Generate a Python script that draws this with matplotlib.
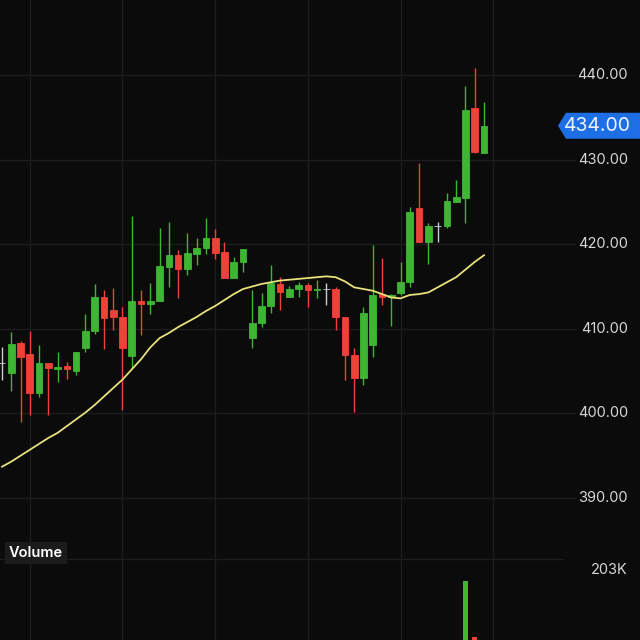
import numpy as np
import matplotlib.pyplot as plt
import matplotlib.transforms as mtransforms
from matplotlib.patches import Polygon
from matplotlib.lines import Line2D

plt.rcParams['font.family'] = ['Inter', 'DejaVu Sans']

# candles (oldest first)
opens = [405.9, 404.8, 408.3, 407.0, 402.4, 406.0, 405.3, 405.6, 405.0, 407.7,
         409.7, 413.8, 412.2, 411.4, 406.8, 413.3, 412.9, 413.3, 417.3, 418.7,
         417.1, 418.8, 419.6, 420.7, 419.1, 416.0, 417.9, 408.9, 410.7, 412.7,
         415.3, 413.8, 414.7, 415.2, 414.6, 414.7, 414.7, 411.4, 406.9, 404.2,
         408.1, 414.1, 413.8, 414.2, 415.5, 424.3, 420.3, 422.2, 422.2, 425.0,
         425.5, 436.1, 430.8]
highs = [407.8, 409.6, 408.6, 409.7, 408.1, 406.0, 407.3, 406.1, 407.3, 411.7,
         415.3, 414.6, 414.8, 412.6, 423.3, 414.6, 415.4, 421.9, 422.6, 419.3,
         421.3, 420.7, 423.1, 421.8, 420.3, 418.5, 419.4, 414.6, 414.2, 417.5,
         416.1, 415.1, 415.5, 415.4, 415.8, 415.4, 414.9, 411.4, 407.7, 412.6,
         419.9, 418.4, 414.1, 417.9, 424.4, 429.6, 422.5, 422.6, 426.1, 427.6,
         438.7, 440.8, 436.8]
lows = [404.0, 402.6, 399.0, 399.8, 401.9, 399.8, 403.7, 404.1, 404.5, 407.3,
        409.4, 407.6, 409.9, 400.4, 405.4, 409.3, 411.7, 413.3, 415.0, 413.6,
        416.4, 417.5, 418.8, 418.3, 416.0, 416.0, 416.7, 407.7, 410.2, 411.9,
        412.2, 413.8, 413.8, 412.6, 413.6, 412.8, 409.9, 404.0, 400.2, 403.4,
        406.7, 412.8, 410.3, 414.0, 414.9, 420.3, 417.7, 420.3, 421.9, 425.0,
        422.5, 430.8, 430.8]
closes = [405.9, 408.2, 406.7, 402.4, 406.0, 405.4, 405.5, 405.3, 407.3, 409.7,
          413.8, 411.3, 411.4, 407.7, 413.3, 412.9, 413.3, 417.4, 418.7, 417.1,
          419.0, 419.6, 420.7, 419.0, 416.0, 417.9, 419.4, 410.7, 412.7, 415.4,
          414.4, 414.7, 415.2, 414.6, 414.7, 414.7, 411.4, 406.9, 404.2, 411.9,
          414.0, 413.8, 414.0, 415.5, 423.8, 420.3, 422.2, 422.2, 425.1, 425.6,
          435.9, 430.9, 434.0]
ma_line = [393.7, 394.3, 395.0, 395.7, 396.4, 397.1, 397.7, 398.5, 399.3, 400.1,
           401.0, 402.0, 403.0, 404.0, 405.2, 406.4, 407.8, 408.9, 409.5, 410.2,
           410.8, 411.4, 412.1, 412.7, 413.4, 414.1, 414.7, 415.0, 415.3, 415.5,
           415.7, 415.8, 415.9, 416.0, 416.1, 416.2, 416.1, 415.6, 414.9, 414.7,
           414.5, 414.1, 413.7, 413.6, 414.0, 414.1, 414.3, 414.9, 415.5, 416.1,
           417.0, 417.9, 418.7]
# volume in thousands (only the last bars reach into view)
volume = [62, 70, 58, 81, 66, 49, 41, 38, 55, 72,
          90, 77, 60, 95, 120, 52, 47, 84, 79, 63,
          68, 45, 70, 58, 74, 50, 61, 112, 80, 88,
          57, 42, 39, 44, 36, 33, 69, 98, 105, 118,
          125, 71, 54, 66, 130, 122, 76, 40, 83, 64,
          193, 144, 96]
price_ticks = [390, 400, 410, 420, 430, 440, 450]
vol_tick = 203

BG = '#0b0b0b'
GRID = '#1d1d1d'
UP = '#3fb534'
DOWN = '#ee4238'
FLAT = '#c8ccd2'
LABEL = '#d6d6d6'

W = H = 640
fig = plt.figure(figsize=(6.4, 6.4), dpi=100, facecolor=BG)

idx = np.arange(len(closes))
step = 9.269
xlim = (-2 / step, (W - 2) / step)

# price pane: figure pixels 0..545 from top
ax = fig.add_axes([0, (H - 545) / H, 1, 545 / H])
ax.set_facecolor(BG)
ax.set_xlim(*xlim)
ax.set_ylim(440 - (545 - 75) / 8.46, 440 + 75 / 8.46)
ax.axis('off')

# volume pane: starts at 545 px, runs below the figure edge
axv = fig.add_axes([0, (H - 800) / H, 1, (800 - 545) / H])
axv.set_facecolor(BG)
axv.set_xlim(*xlim)
axv.set_ylim(0, 225)
axv.axis('off')

for t in price_ticks:
    ax.axhline(t, xmin=0, xmax=575 / W, color=GRID, lw=1, zorder=0)
for v in range(3, len(closes) + 2, 10):
    ax.axvline(v, color=GRID, lw=1, zorder=0)
    axv.axvline(v, color=GRID, lw=1, zorder=0)

o = np.array(opens)
c = np.array(closes)
colors = [UP if cc > oo else DOWN if cc < oo else FLAT for oo, cc in zip(o, c)]

ax.vlines(idx, lows, highs, colors=colors, lw=1, zorder=2)
ax.bar(idx, np.abs(c - o), bottom=np.minimum(o, c), width=0.72,
       color=colors, edgecolor=colors, linewidth=0.6, zorder=3)
ax.plot(idx, ma_line, color='#e8e07c', lw=1.3, zorder=4)

axv.bar(idx, volume, width=0.6, color=colors, zorder=2)

# right-hand scale labels
tr = mtransforms.blended_transform_factory(fig.transFigure, ax.transData)
for t in price_ticks:
    ax.text(628 / W, t, f'{t:.2f}', transform=tr, ha='right', va='center',
            color=LABEL, fontsize=10.5, clip_on=False)

trv = mtransforms.blended_transform_factory(fig.transFigure, axv.transData)
axv.text(628 / W, vol_tick, f'{vol_tick}K', transform=trv, ha='right',
         va='center', color=LABEL, fontsize=10.5)

# last price tag
last = closes[-1]
hh = 13 / 8.46
tag = Polygon([(558 / W, last), (566 / W, last + hh), (1.0, last + hh),
               (1.0, last - hh), (566 / W, last - hh)],
              closed=True, transform=tr, facecolor='#1e6fe6', edgecolor='none',
              zorder=6, clip_on=False)
ax.add_patch(tag)
ax.text(631 / W, last, f'{last:.2f}', transform=tr, ha='right', va='center',
        color='#eef3ff', fontsize=14, zorder=7)

# pane separator and volume title
fig.add_artist(Line2D([0, 562 / W], [1 - 559 / H, 1 - 559 / H], color=GRID, lw=1))
fig.text(9 / W, 1 - 553 / H, 'Volume', color='white', fontsize=10.5,
         fontweight='semibold', ha='left', va='center',
         bbox=dict(boxstyle='square,pad=0.25', facecolor='#1b1b1b', edgecolor='none'))

fig.savefig('out.png', dpi=100, facecolor=BG)
